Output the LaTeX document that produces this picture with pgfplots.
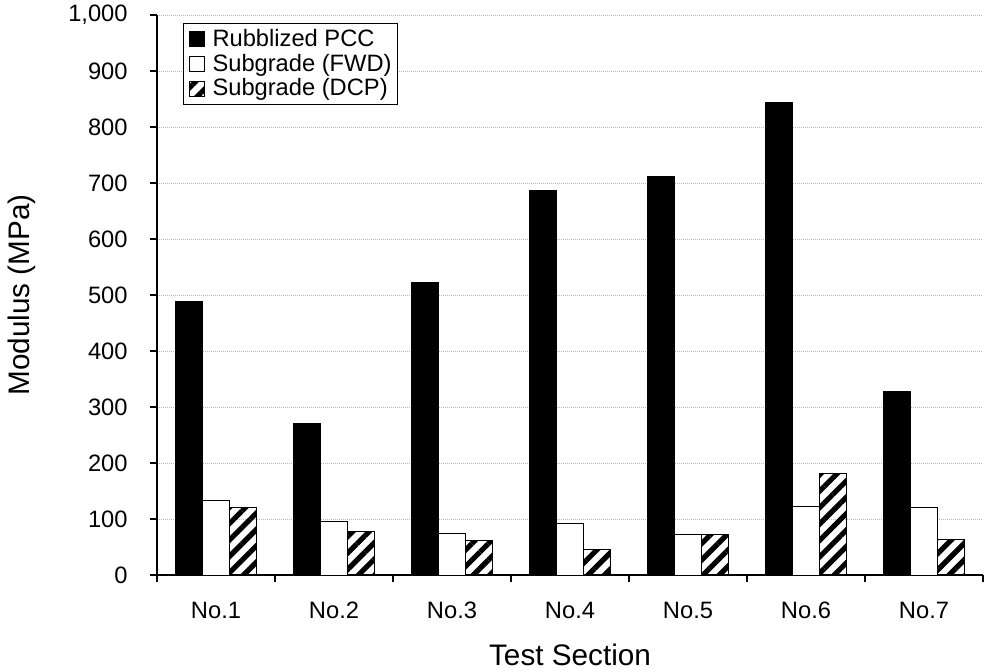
\documentclass[border=0pt]{standalone}
\usepackage{fontspec}
\setmainfont{Liberation Sans}
\usepackage{pgfplots}
\pgfplotsset{compat=1.18}
\usetikzlibrary{patterns.meta}

% modulus per test section (MPa)
\pgfplotstableread{
x  pcc  fwd  dcp
1  489  133  121
2  270   95   78
3  523   75   62
4  687   92   45
5  711   73   73
6  843  123  181
7  327  120   63
}\moddata

\begin{document}
\begin{tikzpicture}
  \begin{axis}[
    scale only axis,
    width=413pt, height=280pt,
    ybar=0pt,
    bar width=13.35pt,
    xmin=0.5, xmax=7.5,
    ymin=0, ymax=1000,
    ytick distance=100,
    xtick={0.5,1.5,...,7.5},
    xticklabels={No.1,No.2,No.3,No.4,No.5,No.6,No.7},
    x tick label as interval,
    axis x line*=bottom,
    axis y line*=left,
    axis line style={-, black, line width=0.6pt},
    tick align=outside,
    major tick length=3.5pt,
    tick style={black, line width=0.6pt},
    ymajorgrids,
    major grid style={draw=gray!55, dash pattern=on 0.5pt off 0.5pt, line width=0.5pt},
    /pgf/number format/assume math mode=true,
    /pgf/number format/1000 sep={,},
    tick label style={font=\fontsize{11.85}{14}\selectfont},
    yticklabel style={inner sep=0pt, xshift=-11pt},
    xticklabel style={inner sep=0pt, yshift=-10pt},
    xlabel={Test Section},
    ylabel={Modulus (MPa)},
    label style={font=\fontsize{14.85}{17}\selectfont},
    x label style={at={(axis description cs:0.5,-0.1607)}, anchor=base},
    y label style={at={(axis description cs:-0.1634,0.5)}, anchor=center, rotate=0},
    legend style={at={(rel axis cs:0.0315,0.9857)}, anchor=north west,
      draw=black, line width=0.5pt, font=\fontsize{11.85}{13}\selectfont,
      inner xsep=1pt, inner ysep=0.8pt, row sep=-1.7pt, cells={anchor=west}},
    legend cell align=left,
    legend image code/.code={
      \path (0pt,0pt) (11pt,0pt);
      \draw[#1, line width=0.5pt] (1.5pt,-3.75pt) rectangle (9pt,3.75pt);},
  ]
  \addplot[draw=black, line width=0.5pt, fill=black] table[x=x, y=pcc] {\moddata};
  \addplot[draw=black, line width=0.5pt, fill=white] table[x=x, y=fwd] {\moddata};
  \addplot[draw=black, line width=0.5pt,
    pattern={Lines[angle=45, distance=5.8pt, line width=2.6pt]}, pattern color=black]
    table[x=x, y=dcp] {\moddata};
  \legend{Rubblized PCC, Subgrade (FWD), Subgrade (DCP)}
  \coordinate (O) at (rel axis cs:0,0);
  \coordinate (TR) at (rel axis cs:1,1);
  \end{axis}
  \pgfresetboundingbox
  \path[use as bounding box] ([xshift=-78.5pt,yshift=-48pt]O) rectangle ([xshift=2pt,yshift=7.5pt]TR);
\end{tikzpicture}
\end{document}
